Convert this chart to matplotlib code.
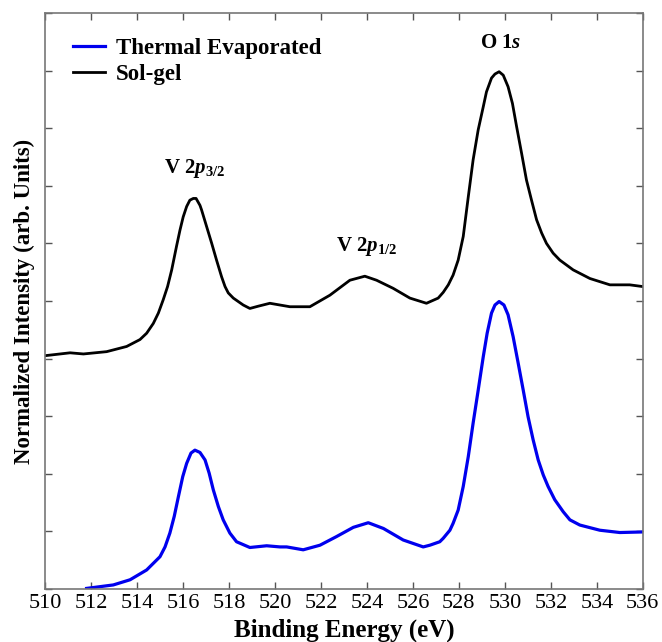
import matplotlib
matplotlib.use("Agg")
import matplotlib.pyplot as plt

plt.rcParams['font.family'] = ['Liberation Serif', 'DejaVu Serif']
plt.rcParams['mathtext.fontset'] = 'custom'
plt.rcParams['mathtext.rm'] = 'Liberation Serif:bold'
plt.rcParams['mathtext.it'] = 'Liberation Serif:italic:bold'
plt.rcParams['mathtext.bf'] = 'Liberation Serif:bold'

# Sol-gel (black) curve: binding energy (eV) and normalized intensity (offset)
solgel_x = [510.0, 511.09, 511.67, 512.68, 513.55, 514.13, 514.42, 514.71, 514.93, 515.14,
            515.33, 515.51, 515.72, 515.87, 516.01, 516.16, 516.30, 516.45, 516.57, 516.74,
            516.81, 517.03, 517.25, 517.46, 517.68, 517.83, 517.97, 518.19, 518.62, 518.91,
            519.28, 519.78, 520.65, 521.52, 522.39, 523.26, 523.91, 524.42, 525.14, 525.87,
            526.59, 527.10, 527.32, 527.54, 527.75, 527.97, 528.19, 528.41, 528.62, 528.84,
            529.06, 529.20, 529.42, 529.57, 529.75, 529.93, 530.14, 530.33, 530.51, 530.73,
            530.94, 531.16, 531.38, 531.60, 531.81, 532.10, 532.39, 532.97, 533.70, 534.57,
            535.43, 536.0]
solgel_y = [4.05, 4.10, 4.08, 4.12, 4.21, 4.33, 4.44, 4.61, 4.79, 5.02,
            5.25, 5.54, 5.95, 6.23, 6.46, 6.64, 6.75, 6.78, 6.78, 6.66,
            6.58, 6.29, 6.00, 5.71, 5.42, 5.25, 5.14, 5.05, 4.93, 4.87,
            4.91, 4.96, 4.90, 4.90, 5.10, 5.36, 5.43, 5.36, 5.22, 5.05,
            4.96, 5.05, 5.15, 5.28, 5.45, 5.71, 6.12, 6.81, 7.45, 7.97,
            8.37, 8.63, 8.87, 8.94, 8.98, 8.92, 8.72, 8.43, 8.03, 7.56,
            7.10, 6.75, 6.41, 6.18, 6.00, 5.83, 5.71, 5.54, 5.39, 5.28,
            5.28, 5.25]

# Thermal evaporated (blue) curve
thermal_x = [511.81, 512.39, 512.97, 513.70, 514.42, 515.00, 515.22, 515.43, 515.62, 515.80,
             515.99, 516.16, 516.35, 516.52, 516.74, 516.96, 517.14, 517.32, 517.54, 517.75,
             518.04, 518.33, 518.91, 519.64, 520.22, 520.51, 521.23, 521.96, 522.68, 523.41,
             524.06, 524.72, 525.58, 526.45, 526.74, 527.17, 527.32, 527.61, 527.75, 527.97,
             528.19, 528.41, 528.62, 528.84, 529.06, 529.23, 529.42, 529.57, 529.75, 529.96,
             530.14, 530.36, 530.58, 530.80, 531.01, 531.23, 531.45, 531.67, 531.88, 532.17,
             532.54, 532.83, 533.26, 534.13, 535.00, 536.0]
thermal_y = [0.01, 0.04, 0.07, 0.16, 0.33, 0.56, 0.73, 0.97, 1.26, 1.60,
             1.95, 2.18, 2.36, 2.41, 2.37, 2.24, 2.01, 1.72, 1.43, 1.20,
             0.97, 0.82, 0.72, 0.75, 0.73, 0.73, 0.68, 0.76, 0.91, 1.07,
             1.15, 1.05, 0.85, 0.73, 0.76, 0.82, 0.88, 1.02, 1.14, 1.37,
             1.78, 2.30, 2.88, 3.45, 4.03, 4.44, 4.79, 4.93, 4.99, 4.93,
             4.76, 4.38, 3.92, 3.45, 2.99, 2.59, 2.24, 1.98, 1.78, 1.55,
             1.34, 1.20, 1.11, 1.02, 0.98, 0.99]

x_ticks = list(range(510, 537, 2))
y_ticks = list(range(0, 11))

peak_labels = ['V 2$\\mathit{p}_{3/2}$', 'V 2$\\mathit{p}_{1/2}$', 'O 1$\\mathit{s}$']
peak_pos_x = [516.5, 524.0, 529.8]
peak_pos_y = [7.1, 5.75, 9.3]

fig = plt.figure(figsize=(6.62, 6.42), dpi=100)
ax = fig.add_axes([0.068, 0.0826, 0.903, 0.8972])

ax.plot(thermal_x, thermal_y, color='#0000ee', lw=2.3, label='Thermal Evaporated',
        solid_joinstyle='round')
ax.plot(solgel_x, solgel_y, color='black', lw=2.0, label='Sol-gel',
        solid_joinstyle='round')

ax.set_xlim(510, 536)
ax.set_ylim(0, 10)
ax.set_xticks(x_ticks)
ax.set_yticks(y_ticks)
ax.set_yticklabels([])
ax.tick_params(direction='in', top=True, right=True, length=5, width=1,
               color='#555555', labelsize=16)
for s in ax.spines.values():
    s.set_color('#777777')
    s.set_linewidth(1.2)

ax.set_xlabel('Binding Energy (eV)', fontsize=18, fontweight='bold', labelpad=4)
ax.set_ylabel('Normalized Intensity (arb. Units)', fontsize=16.5, fontweight='bold', labelpad=4)

for lbl, px, py in zip(peak_labels, peak_pos_x, peak_pos_y):
    ax.text(px, py, lbl, ha='center', va='bottom', fontsize=15, fontweight='bold')

leg = ax.legend(loc='upper left', frameon=False, prop={'weight': 'bold', 'size': 16.5},
                handlelength=1.4, handletextpad=0.45, labelspacing=0.22,
                bbox_to_anchor=(0.013, 0.993), borderaxespad=0.5)

fig.savefig('out.png', dpi=100)
